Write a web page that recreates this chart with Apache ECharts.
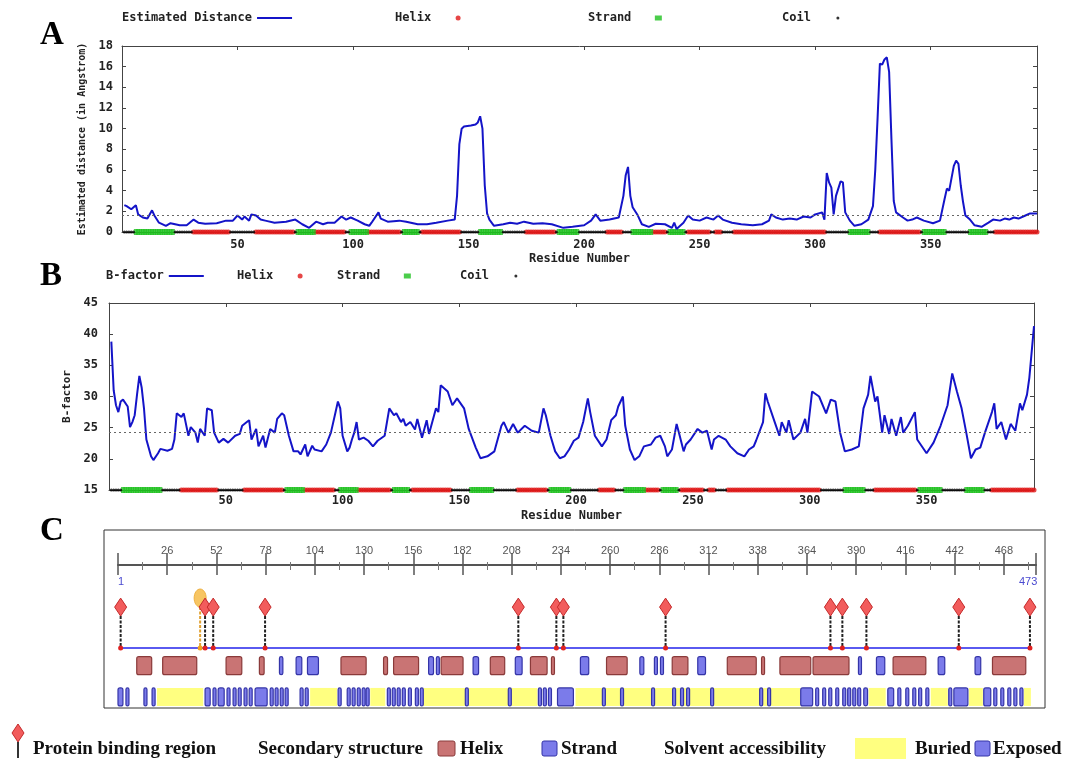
<!DOCTYPE html>
<html lang="en">
<head>
<meta charset="UTF-8">
<title>Residue profiles</title>
<script src="https://cdn.jsdelivr.net/npm/echarts@6/dist/echarts.min.js"></script>
<style>
  html, body { margin: 0; padding: 0; background: #fff; }
  #chart { width: 1083px; height: 760px; }
</style>
</head>
<body>
<div id="chart"></div>
<script>
// ---------- data ----------
var nResidues = 396;

// panel A: estimated distance per residue [residue, angstrom]
var distProfile = [
  [1,2.6],[2,2.5],[4,2.2],[6,2.6],[7,1.7],[9,1.4],[11,1.3],[13,2.1],[14,1.6],[16,0.9],[19,0.6],[21,0.85],
  [25,0.65],[28,0.65],[31,1.2],[33,0.9],[36,0.8],[41,0.85],[45,1.1],[48,1.1],[50,1.6],[52,1.2],[53,1.5],
  [55,1.1],[56,1.7],[58,1.6],[60,1.2],[62,1.1],[66,0.9],[71,1.0],[75,1.2],[78,0.75],[81,0.4],[82,0.6],
  [84,1.0],[87,0.75],[89,0.9],[92,0.9],[95,1.5],[97,1.2],[99,1.4],[102,1.1],[105,0.75],[107,0.6],[108,0.9],
  [111,1.9],[112,1.3],[115,1.0],[120,1.1],[123,1.0],[128,0.75],[132,0.75],[136,0.9],[141,1.1],[144,1.2],
  [145,3.5],[146,8.5],[147,10.0],[148,10.2],[151,10.3],[153,10.4],[154,10.6],[155,11.2],[156,10.0],[157,4.5],
  [158,1.8],[159,1.2],[161,0.6],[165,0.75],[168,0.9],[171,0.8],[174,1.0],[178,0.8],[182,0.85],[186,0.75],
  [191,0.4],[195,0.5],[200,0.65],[203,1.1],[205,1.7],[207,1.1],[211,1.2],[215,1.4],[217,3.5],[218,5.5],
  [219,6.3],[220,3.5],[221,2.4],[223,1.7],[225,0.75],[228,0.5],[231,0.8],[235,0.75],[238,0.4],[239,0.9],
  [240,0.3],[243,0.9],[245,1.6],[247,1.2],[250,1.1],[253,1.4],[256,1.2],[258,1.6],[260,1.2],[264,0.9],
  [268,0.75],[273,0.65],[277,0.75],[280,1.1],[281,1.7],[283,1.4],[286,1.2],[289,1.3],[292,1.2],[295,1.5],
  [298,1.4],[300,1.7],[303,1.9],[304,1.2],[305,5.7],[306,4.8],[307,4.3],[308,1.7],[309,3.5],[311,4.9],
  [312,4.8],[313,1.9],[315,1.1],[317,0.6],[320,0.75],[323,1.2],[325,2.5],[326,6.0],[327,11.0],[328,16.3],
  [329,16.2],[330,16.7],[331,16.9],[332,15.5],[333,9.0],[334,3.0],[335,1.9],[338,1.4],[340,1.1],[342,1.2],
  [344,1.4],[347,1.1],[351,0.85],[354,1.1],[356,3.2],[357,4.2],[358,4.0],[360,6.4],[361,6.9],[362,6.6],
  [363,4.5],[364,2.9],[365,1.6],[367,1.2],[369,0.65],[372,0.5],[375,0.9],[377,1.2],[380,1.1],[382,1.3],
  [384,1.2],[386,1.4],[388,1.3],[391,1.6],[393,1.8],[396,1.8]
];
var distCutoff = 1.66;

// panel B: B-factor per residue [residue, B]
var bfacProfile = [
  [1,38.8],[2,31],[3,28.6],[4,27.5],[5,29.2],[6,29.5],[8,28.4],[9,25.1],[10,25.9],[11,27],[12,30.3],[13,33.3],
  [14,31.4],[15,28],[16,23.1],[18,20.4],[19,19.8],[21,20.9],[22,21.6],[25,21.3],[27,21.6],[28,23.1],[29,27.3],
  [31,26.7],[32,27.3],[34,23.7],[35,25.1],[37,24.2],[38,22.6],[39,24.8],[41,23.7],[42,28.1],[44,27.8],[45,24.2],
  [47,22.6],[49,23.2],[51,22.6],[54,23.7],[56,24.0],[57,25.3],[59,25.9],[60,26.2],[61,23.1],[63,24.8],[64,22.0],
  [66,23.7],[67,21.8],[69,24.8],[71,24.2],[72,26.4],[74,27.3],[75,27.0],[77,23.7],[79,21.2],[81,21.2],[82,20.7],
  [84,22.3],[85,20.4],[87,22.1],[88,21.5],[91,21.2],[93,22.3],[95,24.2],[97,27.5],[98,29.2],[99,28.1],[100,23.7],
  [102,21.2],[103,21.8],[104,23.1],[105,24.2],[106,25.9],[107,23.1],[109,23.4],[111,22.9],[113,22.0],[115,22.9],
  [118,23.7],[120,28.1],[122,27],[123,27.3],[125,25.9],[126,26.4],[127,25.3],[129,25.9],[131,24.7],[132,26.4],
  [134,23.4],[136,26.2],[137,24],[140,28.1],[141,27.5],[142,31.8],[145,30.8],[147,28.6],[149,29.7],[152,28.1],
  [154,24.8],[157,21.8],[159,20.1],[162,20.4],[165,21.2],[168,25.3],[169,25.9],[171,24.2],[173,25.6],[175,24.2],
  [178,25.3],[181,24.5],[184,24.2],[186,28.1],[187,27],[189,23.7],[191,21.2],[193,20.1],[195,20.4],[197,21.5],
  [199,22.9],[201,23.4],[203,25.9],[205,29.7],[206,27.5],[208,23.7],[211,22.0],[213,23.1],[215,26.2],[217,27],
  [218,28.4],[220,30],[221,25.3],[223,21.5],[225,19.8],[227,20.4],[229,22],[232,22.3],[234,23.4],[236,23.7],
  [238,22],[239,20.4],[241,21.5],[243,25.6],[244,24.2],[246,21.2],[247,22.3],[249,23.1],[252,24.8],[254,24.2],
  [256,24.5],[258,21.5],[259,23.1],[261,23.7],[264,23.1],[266,22],[269,20.9],[272,20.4],[274,21.5],[276,22],
  [277,22.9],[280,25.9],[281,30.5],[282,29.2],[285,25.9],[287,23.7],[288,25.9],[290,24.2],[291,26.2],[293,23.1],
  [296,24.2],[298,26.4],[299,24.2],[301,30.8],[304,30],[307,27.3],[309,29.5],[311,29.2],[313,24.2],[315,21.2],
  [318,21.5],[321,22],[323,28.1],[325,30.3],[326,33.3],[328,29.2],[329,30],[331,24.2],[332,27],[334,24],
  [335,26.4],[337,23.7],[339,26.7],[340,24.2],[342,25.3],[345,27.5],[346,23.1],[350,20.9],[353,22.6],[356,25.3],
  [359,28.6],[361,33.7],[363,30.8],[365,28.1],[367,24.2],[369,20.1],[371,21.5],[373,21.8],[375,24.2],[378,27.5],
  [379,28.9],[380,24.8],[382,25.9],[384,23.1],[386,25.6],[388,24.5],[390,28.9],[391,27.8],[393,30.3],[394,33],
  [396,41.3]
];
var bfacMean = 24.3;

// secondary structure along panels A and B (residue ranges)
var helixRanges = [[31,46],[58,74],[84,96],[107,120],[130,146],[175,187],[210,216],[230,235],[245,254],
  [257,259],[265,304],[328,345],[378,396]];
var strandRanges = [[6,22],[76,83],[99,106],[122,128],[155,164],[189,197],[221,229],[237,243],[315,323],
  [347,356],[367,374]];

// panel C: positions on the ruler
var bindingSites = [1.4, 46, 50.3, 77.7, 211.5, 231.6, 235.3, 289.3, 376.4, 382.7, 395.4, 444.2, 481.8];
var pocketSites = [43.4];
var seqEnds = [1, 482];
var seqEndLabels = ['1', '473'];
var cHelix = [[9.9,17.8],[23.6,41.6],[57.1,65.4],[74.7,77.2],[117.8,131.1],[140.3,142.4],[145.6,158.8],
  [170.7,182.3],[196.7,204.3],[217.9,226.7],[229,230],[258.1,269],[292.8,301.1],[321.9,337.2],[340,340.9],
  [349.7,366],[367.2,386.2],[409.5,426.8],[462,479.6]];
var cStrand = [[85.3,87.1],[94.1,97.1],[100.1,105.9],[164.1,166.7],[168.2,169.4],[187.6,190.5],[209.9,213.5],
  [244.3,248.7],[275.7,277.8],[283.4,284.5],[286.6,287.8],[306.3,310.4],[391.2,392.4],[400.7,405.1],
  [433.3,436.8],[452.8,455.8]];
var cBuried = [[20.6,45],[101.5,115.8],[133.3,141.2],[161.3,221.6],[241.7,360.6],[396.6,405.6],[429.4,438.4],
  [449.5,456.9],[478.6,482.3]];
var cExposed = [[0,2.6],[4.2,5.3],[13.7,15.3],[18,19.6],[46,48.7],[50.2,51.8],[52.9,56.1],[57.6,58.7],
  [60.8,61.9],[63.5,65],[66.6,67.7],[69.3,70.3],[72.4,78.8],[80.4,82],[83,84],[85.7,86.7],[88.3,89.9],
  [96.2,97.8],[98.9,99.9],[116.3,117.9],[121.1,122.2],[123.7,124.8],[126.4,127.4],[129,130.1],[131.1,132.1],
  [142.3,143.3],[144.9,146],[147.5,148.6],[150.2,151.2],[153.4,155],[157.1,158.1],[159.7,160.8],[183.5,184.6],
  [206.2,207.3],[222.1,223.7],[224.7,226.3],[227.4,229],[232.2,240.6],[255.9,257],[265.5,267],[281.9,282.9],
  [293,294],[297.2,298.2],[300.4,301.4],[313.1,314.6],[339,340.6],[343.2,344.3],[360.7,367],[368.6,369.6],
  [372.3,373.3],[375.5,377.1],[379.2,380.2],[382.9,383.9],[385.5,387.1],[388.2,389.2],[390.8,391.9],[394,396],
  [406.7,409.8],[412,413],[416.2,417.2],[419.9,420.9],[423,424.6],[426.8,428.3],[438.9,440.5],[441.6,449],
  [457.4,461.1],[462.7,464.3],[466.4,467.5],[470.1,471.2],[473.3,474.9],[476.5,478.1]];

// ---------- helpers ----------
var mono = 'DejaVu Sans Mono';
var serif = 'Liberation Serif';

function inRanges(r, ranges) {
  for (var i = 0; i < ranges.length; i++) {
    if (r >= ranges[i][0] && r <= ranges[i][1]) return true;
  }
  return false;
}

// per-residue secondary structure markers along the bottom of a panel
function ssPoints(base) {
  var out = { H: [], E: [], C: [] };
  for (var r = 1; r <= nResidues; r++) {
    var k = inRanges(r, helixRanges) ? 'H' : (inRanges(r, strandRanges) ? 'E' : 'C');
    out[k].push([r, base]);
  }
  return out;
}
var ssA = ssPoints(0);
var ssB = ssPoints(15);

function xFmt(v) { return (v > 0 && v % 50 === 0) ? String(v) : ''; }

function bottomX(grid, margin, nameGap) {
  return {
    gridIndex: grid, type: 'value', position: 'bottom', min: 0, max: nResidues, interval: 50,
    axisLine: { show: true, onZero: false, lineStyle: { color: '#444' } },
    axisTick: { show: false },
    axisLabel: { formatter: xFmt, margin: margin, fontFamily: mono, fontWeight: 'bold', fontSize: 12, color: '#222' },
    splitLine: { show: false },
    name: 'Residue Number', nameLocation: 'middle', nameGap: nameGap,
    nameTextStyle: { fontFamily: mono, fontWeight: 'bold', fontSize: 12, color: '#222' }
  };
}
function topX(grid) {
  return {
    gridIndex: grid, type: 'value', position: 'top', min: 0, max: nResidues, interval: 50,
    axisLine: { show: true, onZero: false, lineStyle: { color: '#444' } },
    axisTick: { show: true, inside: true, length: 4, lineStyle: { color: '#444' } },
    axisLabel: { show: false }, splitLine: { show: false }
  };
}
function leftY(grid, min, max, step, name, nameGap, nameSize, margin) {
  return {
    gridIndex: grid, type: 'value', position: 'left', min: min, max: max, interval: step,
    axisLine: { show: true, onZero: false, lineStyle: { color: '#444' } },
    axisTick: { show: true, inside: true, length: 4, lineStyle: { color: '#444' } },
    axisLabel: { margin: margin, fontFamily: mono, fontWeight: 'bold', fontSize: 12, color: '#222' },
    splitLine: { show: false },
    name: name, nameLocation: 'middle', nameGap: nameGap, nameRotate: 90,
    nameTextStyle: { fontFamily: mono, fontWeight: 'bold', fontSize: nameSize, color: '#222' }
  };
}
function rightY(grid, min, max, step) {
  return {
    gridIndex: grid, type: 'value', position: 'right', min: min, max: max, interval: step,
    axisLine: { show: true, onZero: false, lineStyle: { color: '#444' } },
    axisTick: { show: true, inside: true, length: 4, lineStyle: { color: '#444' } },
    axisLabel: { show: false }, splitLine: { show: false }
  };
}

function ssSeries(pts, xi, yi) {
  return [
    { name: 'Helix', type: 'scatter', xAxisIndex: xi, yAxisIndex: yi, data: pts.H, symbol: 'circle',
      symbolSize: 5, itemStyle: { color: '#e01818' }, clip: false, z: 2, silent: true },
    { name: 'Strand', type: 'scatter', xAxisIndex: xi, yAxisIndex: yi, data: pts.E, symbol: 'rect',
      symbolSize: [4, 6], itemStyle: { color: '#1ec01e' }, clip: false, z: 2, silent: true },
    { name: 'Coil', type: 'scatter', xAxisIndex: xi, yAxisIndex: yi, data: pts.C, symbol: 'circle',
      symbolSize: 3, itemStyle: { color: '#000' }, clip: false, z: 2, silent: true }
  ];
}

function legendSet(top, items) {
  return items.map(function (it) {
    return {
      top: top, left: it.left, align: 'right', itemWidth: it.w, itemHeight: it.h,
      selectedMode: false, padding: 0,
      textStyle: { fontFamily: mono, fontWeight: 'bold', fontSize: 12, color: '#222' },
      data: [{ name: it.name, icon: it.icon }]
    };
  });
}

// panel C tracks (rows on a 0..7 inverted axis)
var T_LABEL = 0.84, T_SITE = 2.09, T_POCKET = 1.64, T_SEQ = 4.12, T_SS = 5.0, T_SA = 6.55;

function rangeRender(track, halfH, fill, stroke, radius) {
  return function (params, api) {
    var p0 = api.coord([api.value(0), track]);
    var p1 = api.coord([api.value(1), track]);
    var w = Math.max(p1[0] - p0[0], 3);
    return {
      type: 'rect',
      shape: { x: p0[0], y: p0[1] - halfH, width: w, height: halfH * 2, r: radius },
      style: { fill: fill, stroke: stroke, lineWidth: stroke ? 1.2 : 0 }
    };
  };
}

function siteRender(params, api) {
  var top = api.coord([api.value(0), T_SITE]);
  var base = api.coord([api.value(0), T_SEQ]);
  var x = top[0], y = top[1];
  return {
    type: 'group',
    children: [
      { type: 'line', shape: { x1: x, y1: y + 9, x2: base[0], y2: base[1] },
        style: { stroke: '#222', lineWidth: 2, lineDash: [3, 1.5] } },
      { type: 'polygon', shape: { points: [[x, y - 9], [x + 6, y], [x, y + 9], [x - 6, y]] },
        style: { fill: '#f25c5c', stroke: '#c42a2a', lineWidth: 1 } },
      { type: 'circle', shape: { cx: base[0], cy: base[1], r: 2.5 }, style: { fill: '#e02020' } }
    ]
  };
}

function pocketRender(params, api) {
  var top = api.coord([api.value(0), T_POCKET]);
  var base = api.coord([api.value(0), T_SEQ]);
  return {
    type: 'group',
    children: [
      { type: 'line', shape: { x1: top[0], y1: top[1] + 9, x2: base[0], y2: base[1] },
        style: { stroke: '#e0a030', lineWidth: 2, lineDash: [3, 1.5] } },
      { type: 'ellipse', shape: { cx: top[0], cy: top[1], rx: 6, ry: 9 },
        style: { fill: '#f7c562', stroke: '#eeb040', lineWidth: 1 } },
      { type: 'circle', shape: { cx: base[0], cy: base[1], r: 2.5 }, style: { fill: '#f0a020' } }
    ]
  };
}

function seqLineRender(params, api) {
  var a = api.coord([seqEnds[0], T_SEQ]);
  var b = api.coord([seqEnds[1], T_SEQ]);
  return { type: 'line', shape: { x1: a[0], y1: a[1], x2: b[0], y2: b[1] },
    style: { stroke: '#5a5af0', lineWidth: 2 } };
}

function endLabelRender(params, api) {
  var p = api.coord([api.value(0), T_LABEL]);
  var first = params.dataIndex === 0;
  return { type: 'text', x: first ? p[0] - 2 : p[0] + 7, y: p[1],
    style: { text: seqEndLabels[params.dataIndex], fill: '#4a4ad0', font: '11px "Liberation Sans"',
      align: first ? 'left' : 'right', verticalAlign: 'middle' } };
}

var cLegendFont = 'bold 19px "' + serif + '"';
var letterFont = 'bold 33px "' + serif + '"';

var option = {
  animation: false,
  backgroundColor: '#fff',
  grid: [
    { left: 122, top: 46, width: 915, height: 186, show: false },
    { left: 109, top: 303, width: 925, height: 187, show: false },
    { left: 118, top: 565, width: 918, height: 141, show: false }
  ],
  legend: legendSet(12, [
    { name: 'Estimated Distance', left: 122, w: 35, h: 2, icon: 'rect' },
    { name: 'Helix', left: 395, w: 44, h: 5, icon: 'circle' },
    { name: 'Strand', left: 588, w: 44, h: 5, icon: 'path://M0,0h7v5h-7z' },
    { name: 'Coil', left: 782, w: 44, h: 3, icon: 'circle' }
  ]).concat(legendSet(270, [
    { name: 'B-factor', left: 106, w: 35, h: 2, icon: 'rect' },
    { name: 'Helix', left: 237, w: 44, h: 5, icon: 'circle' },
    { name: 'Strand', left: 337, w: 44, h: 5, icon: 'path://M0,0h7v5h-7z' },
    { name: 'Coil', left: 460, w: 44, h: 3, icon: 'circle' }
  ])),
  xAxis: [
    bottomX(0, 7, 21), topX(0),
    bottomX(1, 5, 20), topX(1),
    { gridIndex: 2, type: 'value', position: 'top', min: 0, max: 485, interval: 26,
      axisLine: { show: true, onZero: false, lineStyle: { color: '#555', width: 2 } },
      axisTick: { show: true, length: 12, lineStyle: { color: '#555', width: 1.5 } },
      minorTick: { show: true, splitNumber: 2, length: 3, lineStyle: { color: '#777' } },
      axisLabel: { formatter: function (v) { return (v > 0 && v % 26 === 0) ? String(v) : ''; },
        margin: 9, fontFamily: 'Liberation Sans', fontSize: 11, color: '#555' },
      splitLine: { show: false } },
    { gridIndex: 2, type: 'value', position: 'top', min: 0, max: 485, interval: 26,
      axisLine: { show: false },
      axisTick: { show: true, inside: true, length: 10, lineStyle: { color: '#555', width: 1.5 } },
      minorTick: { show: true, splitNumber: 2, length: 5, lineStyle: { color: '#777' } },
      axisLabel: { show: false }, splitLine: { show: false } }
  ],
  yAxis: [
    leftY(0, 0, 18, 2, 'Estimated distance (in Angstrom)', 28, 10, 9), rightY(0, 0, 18, 2),
    leftY(1, 15, 45, 5, 'B-factor', 30, 11, 11), rightY(1, 15, 45, 5),
    { gridIndex: 2, type: 'value', inverse: true, min: 0, max: 7, show: false }
  ],
  graphic: [
    { type: 'text', left: 40, top: 19, style: { text: 'A', font: letterFont, fill: '#000' } },
    { type: 'text', left: 40, top: 260, style: { text: 'B', font: letterFont, fill: '#000' } },
    { type: 'text', left: 40, top: 515, style: { text: 'C', font: letterFont, fill: '#000' } },
    { type: 'rect', shape: { x: 104, y: 530, width: 941, height: 178 }, z: -1,
      style: { fill: 'none', stroke: '#333', lineWidth: 1 } },
    // key for panel C
    { type: 'polygon', shape: { points: [[18, 724], [24, 733], [18, 742], [12, 733]] },
      style: { fill: '#f25c5c', stroke: '#c42a2a' } },
    { type: 'line', shape: { x1: 18, y1: 742, x2: 18, y2: 758 }, style: { stroke: '#333', lineWidth: 2 } },
    { type: 'text', x: 33, y: 749, style: { text: 'Protein binding region', font: cLegendFont, fill: '#111', verticalAlign: 'middle' } },
    { type: 'text', x: 258, y: 749, style: { text: 'Secondary structure', font: cLegendFont, fill: '#111', verticalAlign: 'middle' } },
    { type: 'rect', shape: { x: 438, y: 741, width: 17, height: 15, r: 2 }, style: { fill: '#c97474', stroke: '#8a3a3a' } },
    { type: 'text', x: 460, y: 749, style: { text: 'Helix', font: cLegendFont, fill: '#111', verticalAlign: 'middle' } },
    { type: 'rect', shape: { x: 542, y: 741, width: 15, height: 15, r: 2 }, style: { fill: '#7b7bea', stroke: '#3434a8' } },
    { type: 'text', x: 561, y: 749, style: { text: 'Strand', font: cLegendFont, fill: '#111', verticalAlign: 'middle' } },
    { type: 'text', x: 664, y: 749, style: { text: 'Solvent accessibility', font: cLegendFont, fill: '#111', verticalAlign: 'middle' } },
    { type: 'rect', shape: { x: 855, y: 738, width: 51, height: 21 }, style: { fill: '#ffff80' } },
    { type: 'text', x: 915, y: 749, style: { text: 'Buried', font: cLegendFont, fill: '#111', verticalAlign: 'middle' } },
    { type: 'rect', shape: { x: 975, y: 741, width: 15, height: 15, r: 2 }, style: { fill: '#7b7bea', stroke: '#3434a8' } },
    { type: 'text', x: 993, y: 749, style: { text: 'Exposed', font: cLegendFont, fill: '#111', verticalAlign: 'middle' } }
  ],
  series: [
    { name: 'Estimated Distance', type: 'line', xAxisIndex: 0, yAxisIndex: 0, data: distProfile,
      showSymbol: false, symbol: 'none', color: '#1414c8', lineStyle: { width: 2, color: '#1414c8' }, z: 3,
      markLine: { silent: true, symbol: 'none', label: { show: false },
        lineStyle: { type: [2, 3], color: '#666', width: 1 }, data: [{ yAxis: distCutoff }] } },
    { name: 'B-factor', type: 'line', xAxisIndex: 2, yAxisIndex: 2, data: bfacProfile,
      showSymbol: false, symbol: 'none', color: '#1414c8', lineStyle: { width: 2, color: '#1414c8' }, z: 3,
      markLine: { silent: true, symbol: 'none', label: { show: false },
        lineStyle: { type: [2, 3], color: '#666', width: 1 }, data: [{ yAxis: bfacMean }] } }
  ].concat(ssSeries(ssA, 0, 0)).concat(ssSeries(ssB, 2, 2)).concat([
    { name: 'accessibility buried', type: 'custom', xAxisIndex: 4, yAxisIndex: 4, data: cBuried,
      renderItem: rangeRender(T_SA, 9, '#ffff80', null, 0), silent: true, z: 1 },
    { name: 'accessibility exposed', type: 'custom', xAxisIndex: 4, yAxisIndex: 4, data: cExposed,
      renderItem: rangeRender(T_SA, 9, '#7b7bea', '#3434a8', 2), silent: true, z: 2 },
    { name: 'ss helix', type: 'custom', xAxisIndex: 4, yAxisIndex: 4, data: cHelix,
      renderItem: rangeRender(T_SS, 9, '#c97474', '#8a3a3a', 2), silent: true, z: 2 },
    { name: 'ss strand', type: 'custom', xAxisIndex: 4, yAxisIndex: 4, data: cStrand,
      renderItem: rangeRender(T_SS, 9, '#7b7bea', '#3434a8', 2), silent: true, z: 2 },
    { name: 'sequence', type: 'custom', xAxisIndex: 4, yAxisIndex: 4, data: [seqEnds],
      renderItem: seqLineRender, silent: true, z: 2 },
    { name: 'sequence ends', type: 'custom', xAxisIndex: 4, yAxisIndex: 4, data: seqEnds.map(function (v) { return [v]; }),
      renderItem: endLabelRender, silent: true, z: 2 },
    { name: 'pocket', type: 'custom', xAxisIndex: 4, yAxisIndex: 4, data: pocketSites.map(function (v) { return [v]; }),
      renderItem: pocketRender, silent: true, z: 3 },
    { name: 'binding sites', type: 'custom', xAxisIndex: 4, yAxisIndex: 4, data: bindingSites.map(function (v) { return [v]; }),
      renderItem: siteRender, silent: true, z: 4 }
  ])
};

var chart = echarts.init(document.getElementById('chart'));
chart.setOption(option);
</script>
</body>
</html>
